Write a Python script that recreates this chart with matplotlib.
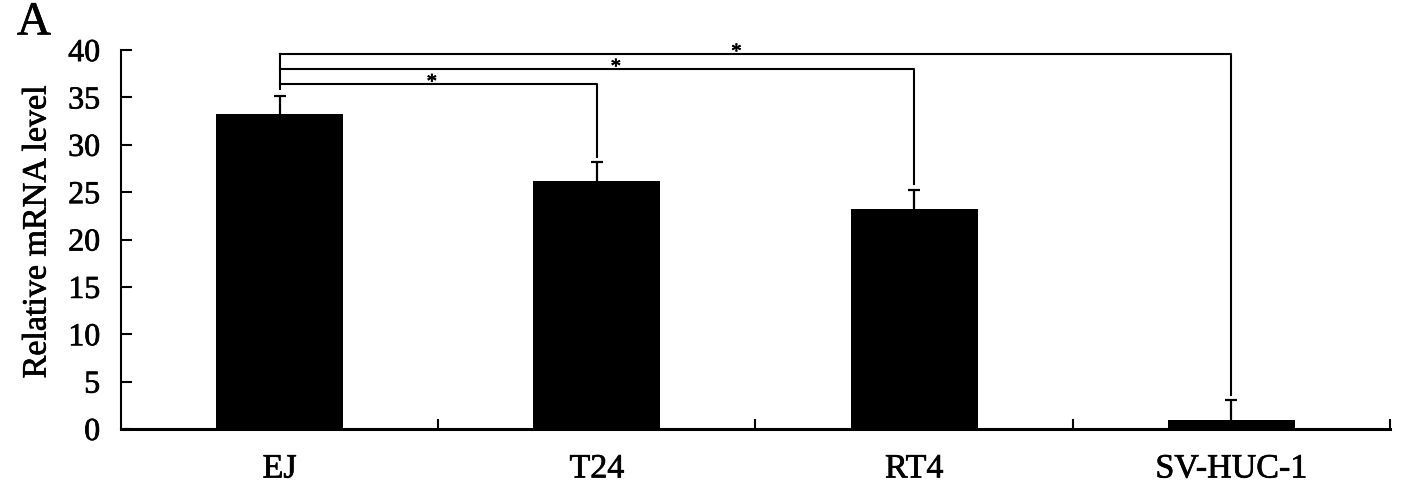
import matplotlib
matplotlib.use("Agg")
import matplotlib.pyplot as plt
import matplotlib.patheffects as pe
import numpy as np

categories = ["EJ", "T24", "RT4", "SV-HUC-1"]
values = [33.2, 26.2, 23.2, 0.95]
errors = [2.0, 2.0, 2.0, 2.1]
yticks = [0, 5, 10, 15, 20, 25, 30, 35, 40]
# significance brackets: (target index, bracket height, end height at target)
sig_targets = [1, 2, 3]
sig_heights = [36.4, 38.0, 39.6]
sig_ends = [28.7, 25.9, 3.6]
sig_labels = ["*", "*", "*"]
sig_label_x = [0.48, 1.06, 1.44]

plt.rcParams['font.family'] = ['Liberation Serif', 'DejaVu Serif']
thick = [pe.withStroke(linewidth=0.5, foreground='black')]

fig = plt.figure(figsize=(14.04, 4.91), dpi=100)
ax = fig.add_axes([0.0862, 0.1263, 0.9038, 0.7717])

x = list(range(len(categories)))
ax.bar(x, values, width=0.40, color='black', zorder=2)
eb = ax.errorbar(x, values, yerr=[[0]*len(values), errors], fmt='none',
                 ecolor='black', elinewidth=1.6, capsize=4.5, capthick=1.6, zorder=3)
for cl in eb[1]:
    if np.allclose(cl.get_ydata(), values):
        cl.set_visible(False)

ax.set_xlim(-0.5, 3.5)
ax.set_ylim(0, 40)
ax.set_yticks(yticks)
ax.set_yticklabels([str(v) for v in yticks], fontsize=23)
ax.set_xticks(x)
ax.set_xticklabels(categories, fontsize=24.5)
ax.tick_params(axis='x', length=0, pad=18)
ax.set_xticks([0.5, 1.5, 2.5, 3.5], minor=True)
ax.tick_params(axis='x', which='minor', direction='in', length=7, width=1.5)
ax.tick_params(axis='y', direction='in', length=8, width=1.5, pad=15)
for lbl in ax.get_xticklabels() + ax.get_yticklabels():
    lbl.set_path_effects(thick)

for s in ['top', 'right']:
    ax.spines[s].set_visible(False)
ax.spines['left'].set_linewidth(1.5)
ax.spines['bottom'].set_linewidth(2.2)

ax.set_ylabel("Relative mRNA level", fontsize=24.5, path_effects=thick)
ax.yaxis.set_label_coords(-0.054, 0.52)

# brackets
ax.plot([0, 0], [values[0] + errors[0] + 0.7, max(sig_heights)], color='black', lw=1.5, zorder=3)
for t, h, e, lab, lx in zip(sig_targets, sig_heights, sig_ends, sig_labels, sig_label_x):
    ax.plot([0, t, t], [h, h, e], color='black', lw=1.5, zorder=3)
    ax.text(lx, h - 0.36, lab, ha='center', va='baseline', fontsize=15, path_effects=thick)

fig.text(0.012, 0.93, "A", fontsize=34, path_effects=thick)

fig.savefig("out.png", dpi=100)
